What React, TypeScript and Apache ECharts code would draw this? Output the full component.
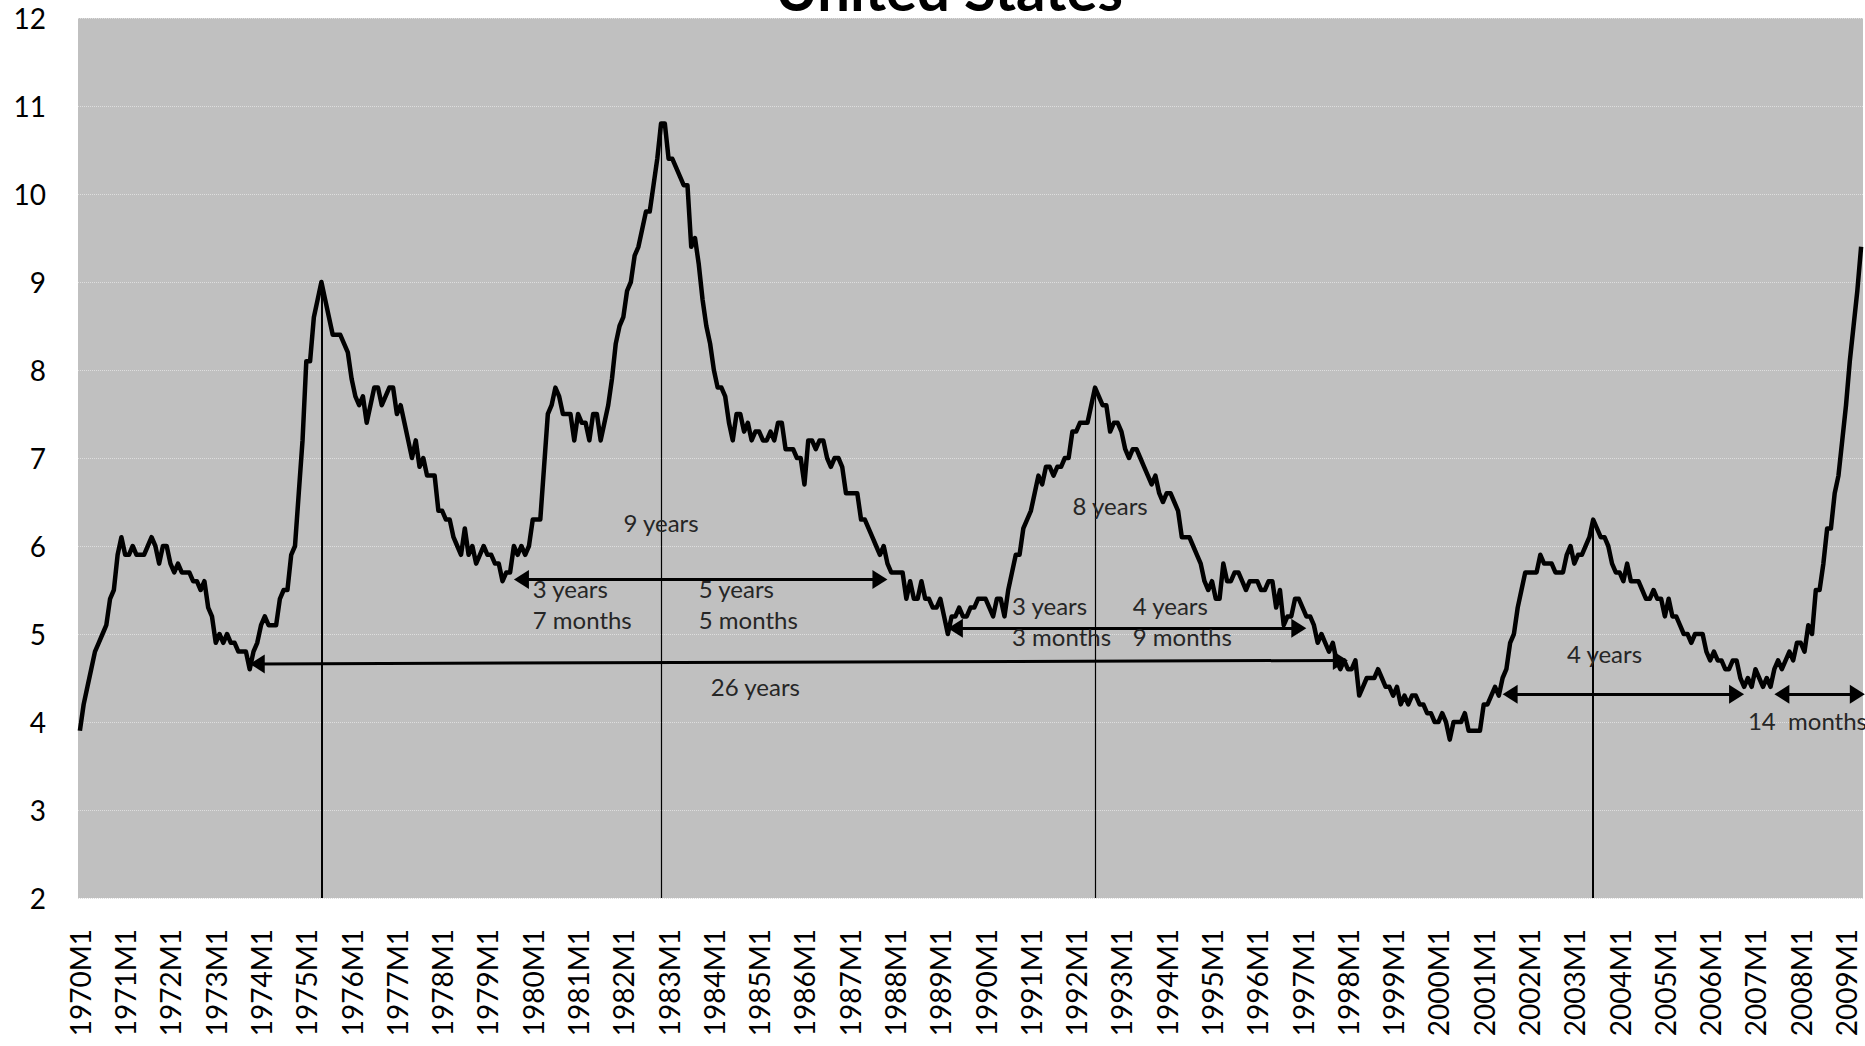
import React, { useEffect, useRef } from "react";
import * as echarts from "echarts";

// US unemployment rate, monthly, %, 1970M1 - 2009M5
const rate1970s = [
  3.9, 4.2, 4.4, 4.6, 4.8, 4.9, 5.0, 5.1, 5.4, 5.5, 5.9, 6.1,
  5.9, 5.9, 6.0, 5.9, 5.9, 5.9, 6.0, 6.1, 6.0, 5.8, 6.0, 6.0,
  5.8, 5.7, 5.8, 5.7, 5.7, 5.7, 5.6, 5.6, 5.5, 5.6, 5.3, 5.2,
  4.9, 5.0, 4.9, 5.0, 4.9, 4.9, 4.8, 4.8, 4.8, 4.6, 4.8, 4.9,
  5.1, 5.2, 5.1, 5.1, 5.1, 5.4, 5.5, 5.5, 5.9, 6.0, 6.6, 7.2,
  8.1, 8.1, 8.6, 8.8, 9.0, 8.8, 8.6, 8.4, 8.4, 8.4, 8.3, 8.2,
  7.9, 7.7, 7.6, 7.7, 7.4, 7.6, 7.8, 7.8, 7.6, 7.7, 7.8, 7.8,
  7.5, 7.6, 7.4, 7.2, 7.0, 7.2, 6.9, 7.0, 6.8, 6.8, 6.8, 6.4,
  6.4, 6.3, 6.3, 6.1, 6.0, 5.9, 6.2, 5.9, 6.0, 5.8, 5.9, 6.0,
  5.9, 5.9, 5.8, 5.8, 5.6, 5.7, 5.7, 6.0, 5.9, 6.0, 5.9, 6.0,
];
const rate1980s = [
  6.3, 6.3, 6.3, 6.9, 7.5, 7.6, 7.8, 7.7, 7.5, 7.5, 7.5, 7.2,
  7.5, 7.4, 7.4, 7.2, 7.5, 7.5, 7.2, 7.4, 7.6, 7.9, 8.3, 8.5,
  8.6, 8.9, 9.0, 9.3, 9.4, 9.6, 9.8, 9.8, 10.1, 10.4, 10.8, 10.8,
  10.4, 10.4, 10.3, 10.2, 10.1, 10.1, 9.4, 9.5, 9.2, 8.8, 8.5, 8.3,
  8.0, 7.8, 7.8, 7.7, 7.4, 7.2, 7.5, 7.5, 7.3, 7.4, 7.2, 7.3,
  7.3, 7.2, 7.2, 7.3, 7.2, 7.4, 7.4, 7.1, 7.1, 7.1, 7.0, 7.0,
  6.7, 7.2, 7.2, 7.1, 7.2, 7.2, 7.0, 6.9, 7.0, 7.0, 6.9, 6.6,
  6.6, 6.6, 6.6, 6.3, 6.3, 6.2, 6.1, 6.0, 5.9, 6.0, 5.8, 5.7,
  5.7, 5.7, 5.7, 5.4, 5.6, 5.4, 5.4, 5.6, 5.4, 5.4, 5.3, 5.3,
  5.4, 5.2, 5.0, 5.2, 5.2, 5.3, 5.2, 5.2, 5.3, 5.3, 5.4, 5.4,
];
const rate1990s = [
  5.4, 5.3, 5.2, 5.4, 5.4, 5.2, 5.5, 5.7, 5.9, 5.9, 6.2, 6.3,
  6.4, 6.6, 6.8, 6.7, 6.9, 6.9, 6.8, 6.9, 6.9, 7.0, 7.0, 7.3,
  7.3, 7.4, 7.4, 7.4, 7.6, 7.8, 7.7, 7.6, 7.6, 7.3, 7.4, 7.4,
  7.3, 7.1, 7.0, 7.1, 7.1, 7.0, 6.9, 6.8, 6.7, 6.8, 6.6, 6.5,
  6.6, 6.6, 6.5, 6.4, 6.1, 6.1, 6.1, 6.0, 5.9, 5.8, 5.6, 5.5,
  5.6, 5.4, 5.4, 5.8, 5.6, 5.6, 5.7, 5.7, 5.6, 5.5, 5.6, 5.6,
  5.6, 5.5, 5.5, 5.6, 5.6, 5.3, 5.5, 5.1, 5.2, 5.2, 5.4, 5.4,
  5.3, 5.2, 5.2, 5.1, 4.9, 5.0, 4.9, 4.8, 4.9, 4.7, 4.6, 4.7,
  4.6, 4.6, 4.7, 4.3, 4.4, 4.5, 4.5, 4.5, 4.6, 4.5, 4.4, 4.4,
  4.3, 4.4, 4.2, 4.3, 4.2, 4.3, 4.3, 4.2, 4.2, 4.1, 4.1, 4.0,
];
const rate2000s = [
  4.0, 4.1, 4.0, 3.8, 4.0, 4.0, 4.0, 4.1, 3.9, 3.9, 3.9, 3.9,
  4.2, 4.2, 4.3, 4.4, 4.3, 4.5, 4.6, 4.9, 5.0, 5.3, 5.5, 5.7,
  5.7, 5.7, 5.7, 5.9, 5.8, 5.8, 5.8, 5.7, 5.7, 5.7, 5.9, 6.0,
  5.8, 5.9, 5.9, 6.0, 6.1, 6.3, 6.2, 6.1, 6.1, 6.0, 5.8, 5.7,
  5.7, 5.6, 5.8, 5.6, 5.6, 5.6, 5.5, 5.4, 5.4, 5.5, 5.4, 5.4,
  5.2, 5.4, 5.2, 5.2, 5.1, 5.0, 5.0, 4.9, 5.0, 5.0, 5.0, 4.8,
  4.7, 4.8, 4.7, 4.7, 4.6, 4.6, 4.7, 4.7, 4.5, 4.4, 4.5, 4.4,
  4.6, 4.5, 4.4, 4.5, 4.4, 4.6, 4.7, 4.6, 4.7, 4.8, 4.7, 4.9,
  4.9, 4.8, 5.1, 5.0, 5.5, 5.5, 5.8, 6.2, 6.2, 6.6, 6.8, 7.2,
  7.6, 8.1, 8.5, 8.9, 9.4,
];

const rates = [...rate1970s, ...rate1980s, ...rate1990s, ...rate2000s];

// Category labels "YYYYMm"
const firstYear = 1970;
const categories: string[] = rates.map(
  (_, i) => `${firstYear + Math.floor(i / 12)}M${(i % 12) + 1}`
);

// Y-axis ticks
const yMin = 2;
const yMax = 12;
const yStep = 1;

// Vertical lines dropped from the cycle peaks
const peakLines = [
  { at: "1975M5", width: 2 },
  { at: "1982M11", width: 1.2 },
  { at: "1992M6", width: 1.2 },
  { at: "2003M6", width: 2 },
];

// Double-headed arrows
const arrows = [
  { from: "1973M12", to: "1997M11", v1: 4.66, v2: 4.7 },
  { from: "1979M10", to: "1987M9", v1: 5.62, v2: 5.62 },
  { from: "1989M5", to: "1996M12", v1: 5.065, v2: 5.065 },
  { from: "2001M8", to: "2006M8", v1: 4.315, v2: 4.315 },
  { from: "2007M8", to: "2009M4", v1: 4.315, v2: 4.315 },
];

// Text annotations
const notes = [
  { at: "1982M11", v: 6.27, text: "9 years", align: "center" },
  { at: "1980M1", v: 5.34, text: "3 years\n7 months", align: "left" },
  { at: "1983M9", v: 5.34, text: "5 years\n5 months", align: "left" },
  { at: "1984M12", v: 4.4, text: "26 years", align: "center" },
  { at: "1992M10", v: 6.46, text: "8 years", align: "center" },
  { at: "1990M8", v: 5.15, text: "3 years\n3 months", align: "left" },
  { at: "1993M4", v: 5.15, text: "4 years\n9 months", align: "left" },
  { at: "2003M9", v: 4.78, text: "4 years", align: "center" },
  { at: "2006M11", v: 4.02, text: "14  months", align: "left" },
];

const FONT = "Lato, 'Open Sans', sans-serif";

export default function App() {
  const ref = useRef<HTMLDivElement>(null);

  useEffect(() => {
    if (!ref.current) return;
    const chart = echarts.init(ref.current, undefined, { renderer: "svg" });

    const valueAt = (cat: string) => rates[categories.indexOf(cat)];

    const markLineData: any[] = [];
    peakLines.forEach((p) => {
      markLineData.push([
        {
          coord: [p.at, valueAt(p.at)],
          symbol: "none",
          lineStyle: { color: "#000", width: p.width, type: "solid" },
        },
        { coord: [p.at, yMin], symbol: "none" },
      ]);
    });
    arrows.forEach((a) => {
      markLineData.push([
        {
          coord: [a.from, a.v1],
          symbol: "triangle",
          symbolSize: [19, 15],
          lineStyle: { color: "#000", width: 3, type: "solid" },
        },
        { coord: [a.to, a.v2], symbol: "triangle", symbolSize: [19, 15] },
      ]);
    });

    const markPointData = notes.map((n) => ({
      coord: [n.at, n.v],
      value: 0,
      symbol: "circle",
      symbolSize: 1,
      itemStyle: { color: "rgba(0,0,0,0)" },
      label: {
        show: true,
        position: "inside",
        formatter: n.text,
        align: n.align,
        verticalAlign: "middle",
        color: "#262626",
        fontFamily: FONT,
        fontSize: 24,
        lineHeight: 31,
      },
    }));

    chart.setOption({
      animation: false,
      backgroundColor: "#ffffff",
      textStyle: { fontFamily: FONT },
      grid: {
        left: 78,
        right: 2,
        top: 18,
        bottom: 148,
        show: true,
        backgroundColor: "#c0c0c0",
        borderWidth: 0,
        containLabel: false,
      },
      graphic: [
        {
          type: "text",
          x: 949,
          y: 17,
          style: {
            text: "United States",
            fontFamily: FONT,
            fontWeight: "bold",
            fontSize: 58,
            fill: "#000",
            align: "center",
            verticalAlign: "bottom",
          },
          z: 10,
        },
      ],
      xAxis: {
        type: "category",
        data: categories,
        boundaryGap: true,
        axisLine: { show: false },
        axisTick: { show: false },
        axisLabel: {
          interval: 11,
          rotate: 90,
          margin: 31,
          color: "#000",
          fontFamily: FONT,
          fontSize: 28,
        },
        splitLine: { show: false },
      },
      yAxis: {
        type: "value",
        min: yMin,
        max: yMax,
        interval: yStep,
        axisLine: { show: false },
        axisTick: { show: false },
        axisLabel: {
          margin: 32,
          color: "#000",
          fontFamily: FONT,
          fontSize: 28,
        },
        splitLine: {
          show: true,
          lineStyle: { color: "#dedede", width: 1, type: "dotted" },
        },
      },
      series: [
        {
          type: "line",
          data: rates,
          symbol: "none",
          smooth: false,
          lineStyle: { color: "#000", width: 4.5, join: "round" },
          z: 3,
          markLine: {
            silent: true,
            animation: false,
            symbolSize: [19, 15],
            label: { show: false },
            emphasis: { disabled: true },
            data: markLineData,
          },
          markPoint: {
            silent: true,
            animation: false,
            data: markPointData,
          },
        },
      ],
    });

    return () => chart.dispose();
  }, []);

  return (
    <div
      ref={ref}
      style={{ position: "absolute", left: 0, top: 0, width: 1865, height: 1046 }}
    />
  );
}
